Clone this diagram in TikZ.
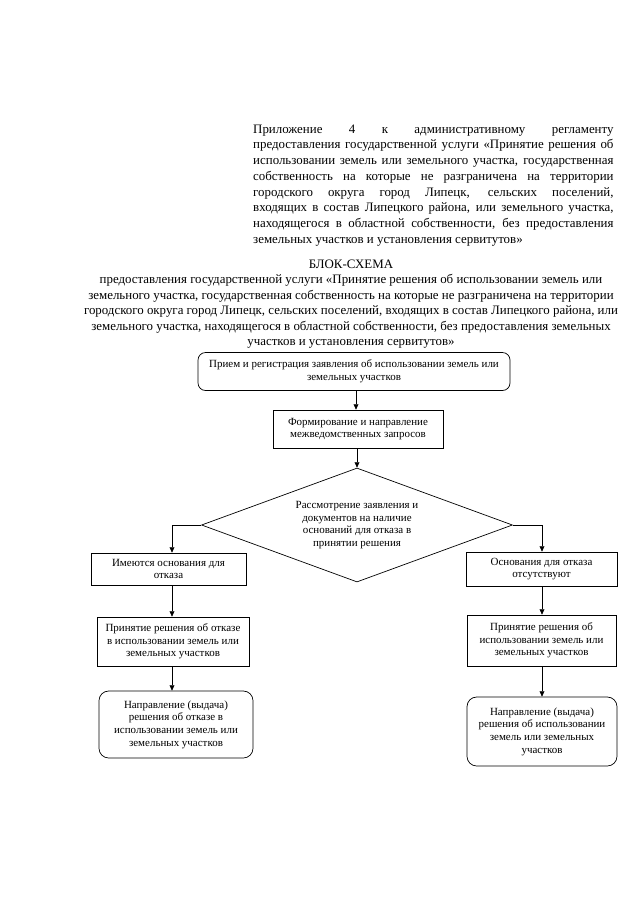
\documentclass[tikz,border=0pt]{standalone}
\usepackage{fontspec}
\setmainfont{Liberation Serif}
\usetikzlibrary{arrows.meta,shapes.geometric}
\def\pp{*0.9297pt}
\begin{document}
\begin{tikzpicture}[x=0.9297pt,y=-0.9297pt,
  box/.style={draw, line width=0.65pt, align=center, inner sep=0pt,
    font=\fontsize{10.2}{11.7}\selectfont},
  rbox/.style={box, rounded corners=7pt},
  arr/.style={draw, line width=0.65pt, -{Triangle[length=5pt,width=4.5pt]}},
  hdr/.style={inner sep=0pt, font=\fontsize{12}{14.6}\selectfont}]
\useasboundingbox (0,0) rectangle (640,905);

\node[hdr, anchor=north west, text width=335pt, align=justify] (app) at (253,124.5)
{Приложение 4 к административному регламенту\linebreak
предоставления государственной услуги «Принятие решения об\linebreak
использовании земель или земельного участка, государственная\linebreak
собственность на которые не разграничена на территории\linebreak
городского округа город Липецк, сельских поселений,\linebreak
входящих в состав Липецкого района, или земельного участка,\linebreak
находящегося в областной собственности, без предоставления\linebreak
земельных участков и установления сервитутов»};

\node[hdr, anchor=north, align=center, font=\fontsize{12}{14.3}\selectfont] (ttl) at (351,259.8)
{БЛОК-СХЕМА\\
предоставления государственной услуги «Принятие решения об использовании земель или\\
земельного участка, государственная собственность на которые не разграничена на территории\\
городского округа город Липецк, сельских поселений, входящих в состав Липецкого района, или\\
земельного участка, находящегося в областной собственности, без предоставления земельных\\
участков и установления сервитутов»};

\coordinate (cx) at (356,0);
\coordinate (cl) at (172,0);
\coordinate (cr) at (542,0);

\node[rbox, minimum width=312\pp, minimum height=38\pp] (n1) at (354,371.5)
{Прием и регистрация заявления об использовании земель или\\земельных участков};
\node[box, minimum width=170\pp, minimum height=38\pp] (n2) at (358,429)
{Формирование и направление\\межведомственных запросов};
\node[box, diamond, shape aspect=2.73, minimum width=311\pp, minimum height=114\pp] (dia) at (357,525)
{Рассмотрение заявления и\\документов на наличие\\оснований для отказа в\\принятии решения};

\node[box, minimum width=155\pp, minimum height=32\pp] (a1) at (168.5,569)
{Имеются основания для\\отказа};
\node[box, minimum width=151\pp, minimum height=34\pp] (b1) at (541.5,569)
{Основания для отказа\\отсутствуют};
\node[box, minimum width=152\pp, minimum height=49\pp] (a2) at (173,641.5)
{Принятие решения об отказе\\в использовании земель или\\земельных участков};
\node[box, minimum width=149\pp, minimum height=51\pp] (b2) at (541.5,640.5)
{Принятие решения об\\использовании земель или\\земельных участков};
\node[rbox, rounded corners=9pt, minimum width=154\pp, minimum height=67\pp] (a3) at (176,724.5)
{Направление (выдача)\\решения об отказе в\\использовании земель или\\земельных участков};
\node[rbox, rounded corners=9pt, minimum width=150\pp, minimum height=69\pp] (b3) at (542,731.5)
{Направление (выдача)\\решения об использовании\\земель или земельных\\участков};

\draw[arr] (n1.south -| cx) -- (n2.north -| cx);
\draw[arr] (n2.south -| dia.north) -- (dia.north);
\draw[arr] (dia.west) -| (a1.north -| cl);
\draw[arr] (dia.east) -| (b1.north -| cr);
\draw[arr] (a1.south -| cl) -- (a2.north -| cl);
\draw[arr] (a2.south -| cl) -- (a3.north -| cl);
\draw[arr] (b1.south -| cr) -- (b2.north -| cr);
\draw[arr] (b2.south -| cr) -- (b3.north -| cr);
\end{tikzpicture}
\end{document}
